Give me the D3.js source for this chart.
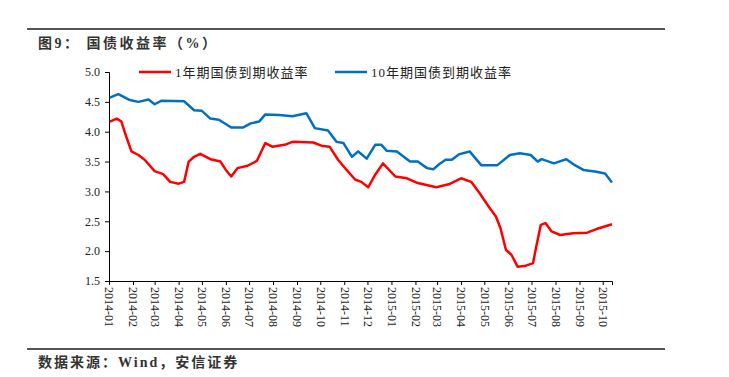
<!DOCTYPE html>
<html lang="zh">
<head>
<meta charset="utf-8">
<title>国债收益率</title>
<script src="https://d3js.org/d3.v7.min.js"></script>
<style>
  body { margin: 0; background: #fff; }
  text { font-family: "Liberation Serif", "Noto Sans CJK SC", serif; }
</style>
</head>
<body>
<script>
// 1-year yield
var dates1 = ["2014-01-02","2014-01-11","2014-01-17","2014-01-24","2014-01-30","2014-02-08","2014-02-16","2014-03-01","2014-03-12","2014-03-21",
  "2014-04-01","2014-04-08","2014-04-14","2014-04-21","2014-04-29","2014-05-12","2014-05-25","2014-06-01","2014-06-08","2014-06-16",
  "2014-06-29","2014-07-11","2014-07-22","2014-07-31","2014-08-16","2014-08-26","2014-09-22","2014-10-04","2014-10-13","2014-10-24",
  "2014-11-04","2014-11-15","2014-11-23","2014-12-02","2014-12-11","2014-12-21","2015-01-06","2015-01-21","2015-02-04","2015-02-28",
  "2015-03-16","2015-04-01","2015-04-14","2015-04-25","2015-05-07","2015-05-16","2015-05-22","2015-05-29","2015-06-05","2015-06-13",
  "2015-06-22","2015-07-03","2015-07-07","2015-07-13","2015-07-19","2015-07-27","2015-08-07","2015-08-24","2015-09-11","2015-09-23","2015-10-13"];
var yield1 = [4.17,4.22,4.17,3.89,3.67,3.61,3.53,3.34,3.29,3.16,
  3.13,3.16,3.50,3.58,3.63,3.54,3.50,3.36,3.25,3.39,
  3.43,3.51,3.81,3.75,3.78,3.83,3.82,3.76,3.75,3.53,
  3.36,3.20,3.16,3.07,3.28,3.47,3.25,3.22,3.14,3.07,
  3.12,3.22,3.16,2.97,2.74,2.58,2.38,2.02,1.94,1.74,
  1.75,1.80,2.07,2.44,2.47,2.33,2.27,2.30,2.31,2.37,2.45];

// 10-year yield
var dates10 = ["2014-01-02","2014-01-13","2014-01-28","2014-02-08","2014-02-21","2014-03-01","2014-03-10","2014-04-08","2014-04-21","2014-05-01",
  "2014-05-12","2014-05-23","2014-06-08","2014-06-23","2014-07-03","2014-07-14","2014-07-22","2014-08-09","2014-08-26","2014-09-13",
  "2014-09-24","2014-10-11","2014-10-22","2014-10-31","2014-11-11","2014-11-19","2014-11-30","2014-12-11","2014-12-19","2014-12-26",
  "2015-01-08","2015-01-25","2015-02-04","2015-02-16","2015-02-24","2015-03-04","2015-03-12","2015-03-20","2015-03-29","2015-04-12",
  "2015-04-27","2015-05-18","2015-06-03","2015-06-16","2015-06-30","2015-07-09","2015-07-14","2015-07-30","2015-08-15","2015-08-26",
  "2015-09-06","2015-09-23","2015-10-04","2015-10-13"];
var yield10 = [4.57,4.63,4.53,4.50,4.54,4.46,4.52,4.51,4.36,4.35,
  4.22,4.20,4.07,4.07,4.14,4.17,4.29,4.28,4.26,4.31,
  4.06,4.02,3.83,3.81,3.58,3.67,3.55,3.78,3.78,3.68,
  3.67,3.50,3.50,3.39,3.37,3.46,3.53,3.53,3.62,3.67,
  3.44,3.44,3.61,3.64,3.61,3.50,3.54,3.47,3.54,3.44,
  3.36,3.33,3.30,3.15];

var yTicks = [1.5, 2.0, 2.5, 3.0, 3.5, 4.0, 4.5, 5.0];
var seriesNames = ["1年期国债到期收益率", "10年期国债到期收益率"];
var seriesColors = ["#ff0000", "#0070c0"];

const W = 729, H = 377;
const parse = d3.timeParse("%Y-%m-%d");

const svg = d3.select("body").append("svg")
  .attr("width", W).attr("height", H);

// title + rules
svg.append("line").attr("x1", 27).attr("x2", 665).attr("y1", 29).attr("y2", 29)
  .attr("stroke", "#555").attr("stroke-width", 2);
svg.append("text").attr("x", 38).attr("y", 48)
  .attr("font-size", 14).attr("font-weight", "bold").attr("fill", "#333")
  .attr("letter-spacing", 2.5)
  .text("图9：  国债收益率（%）");
svg.append("line").attr("x1", 27).attr("x2", 665).attr("y1", 349).attr("y2", 349)
  .attr("stroke", "#555").attr("stroke-width", 2);
svg.append("text").attr("x", 38).attr("y", 367)
  .attr("font-size", 14).attr("font-weight", "bold").attr("fill", "#333")
  .attr("letter-spacing", 2)
  .text("数据来源：Wind，安信证券");

// scales
var x = d3.scaleTime()
  .domain([parse("2014-01-01"), parse("2015-10-13")])
  .range([109, 612]);
var y = d3.scaleLinear().domain([1.5, 5.0]).range([281, 72]);

// y axis
var yAxis = svg.append("g").attr("transform", "translate(109,0)")
  .call(d3.axisLeft(y).tickValues(yTicks).tickFormat(d3.format(".1f")).tickSizeOuter(0).tickSize(4));
yAxis.select(".domain").attr("stroke", "#000");
yAxis.selectAll("text").attr("font-size", 12).attr("font-family", "Liberation Serif").attr("fill", "#222").attr("x", -9);

// x axis
var months = d3.timeMonth.range(parse("2014-01-01"), parse("2015-10-02"));
var xAxis = svg.append("g").attr("transform", "translate(0,281)")
  .call(d3.axisBottom(x).tickValues(months).tickFormat(d3.timeFormat("%Y-%m")).tickSizeOuter(0).tickSize(4));
xAxis.select(".domain").attr("stroke", "#000");
xAxis.selectAll("text")
  .attr("font-size", 12).attr("font-family", "Liberation Serif").attr("fill", "#222")
  .attr("transform", "rotate(90)")
  .attr("x", 6).attr("y", 0).attr("dy", "0.35em")
  .style("text-anchor", "start");

// lines
var line = d3.line()
  .x(function(d) { return x(d[0]); })
  .y(function(d) { return y(d[1]); });

var data1 = dates1.map(function(d, i) { return [parse(d), yield1[i]]; });
var data10 = dates10.map(function(d, i) { return [parse(d), yield10[i]]; });

svg.append("path").datum(data10).attr("d", line)
  .attr("fill", "none").attr("stroke", seriesColors[1]).attr("stroke-width", 2.5).attr("stroke-linejoin", "round");
svg.append("path").datum(data1).attr("d", line)
  .attr("fill", "none").attr("stroke", seriesColors[0]).attr("stroke-width", 2.5).attr("stroke-linejoin", "round");

// legend
var legendX = [139, 335];
seriesNames.forEach(function(name, i) {
  svg.append("line").attr("x1", legendX[i]).attr("x2", legendX[i] + 32)
    .attr("y1", 72).attr("y2", 72)
    .attr("stroke", seriesColors[i]).attr("stroke-width", 2.5);
  svg.append("text").attr("x", legendX[i] + 36).attr("y", 77)
    .attr("font-size", 13).attr("fill", "#222").attr("letter-spacing", 1)
    .text(name);
});
</script>
</body>
</html>
